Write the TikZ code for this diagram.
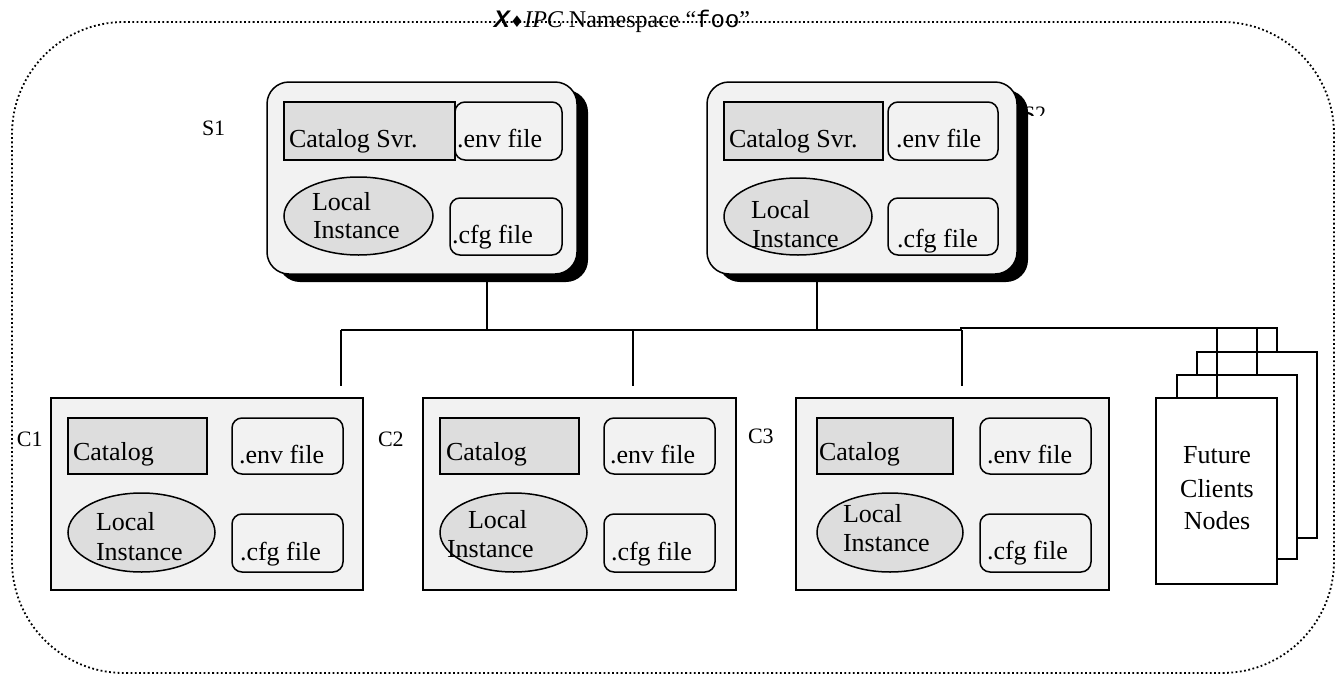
\documentclass[tikz,border=0pt]{standalone}
\usepackage{fontspec}
\setmainfont{Liberation Serif}
\setsansfont{Liberation Sans}
\setmonofont{Liberation Mono}
\newfontfamily\symfont{DejaVu Sans}
\usetikzlibrary{shapes.geometric,fit,shadows}
\definecolor{boxgray}{HTML}{F2F2F2}
\definecolor{catgray}{HTML}{DDDDDD}

\begin{document}
\begin{tikzpicture}[x=0.5pt,y=-0.5pt,
  line width=0.75pt,
  every node/.style={inner sep=0pt, outer sep=0pt},
  txt/.style={anchor=base west, font=\fontsize{13}{14}\selectfont},
  lbl/.style={anchor=base west, font=\fontsize{11}{12}\selectfont},
  srvbox/.style={draw, fill=boxgray, rounded corners=11pt,
    drop shadow={shadow xshift=5.5pt, shadow yshift=-4pt, opacity=1, fill=black}},
  clibox/.style={draw, fill=boxgray},
  catbox/.style={draw, fill=catgray},
  filebox/.style={draw, fill=boxgray, rounded corners=5pt},
  inst/.style={draw, fill=catgray, ellipse},
  future/.style={draw, fill=white},
  wire/.style={line width=0.8pt},
  nsframe/.style={line width=0.9pt, dash pattern=on 0.9pt off 1.25pt, rounded corners=56pt}
]
\useasboundingbox (0,0) rectangle (1340,675);

% namespace frame and its title
\node[nsframe, draw, fit={(12,22) (1334,673)}] (ns) {};
\node[anchor=base, font=\fontsize{12}{13}\selectfont] (title) at (622,27)
  {{\sffamily\bfseries\itshape X}{\symfont\fontsize{8}{9}\selectfont ♦}{\itshape IPC} Namespace “\texttt{foo}”};

% bus joints
\coordinate (j1) at (487,330);
\coordinate (j2) at (817,330);
\coordinate (d1) at (341,386);
\coordinate (d2) at (633,386);
\coordinate (d3) at (962,386);
\coordinate (busL) at (341,330);
\coordinate (busR) at (962,330);
\coordinate (feedL) at (960,328);
\coordinate (feedR) at (1277,328);
\coordinate (t1) at (1217,398);
\coordinate (t2) at (1257,375);

% server labels (S2 partly hidden)
\node[lbl] (s1lbl) at (202,135) {S1};
\begin{scope}
  \clip (1015,95) rectangle (1060,115);
  \node[lbl] (s2lbl) at (1023,121) {S2};
\end{scope}

% servers
\node[srvbox, fit={(267,82) (577,274)}] (s1) {};
\node[catbox, fit={(284,102) (455,160)}] (s1cat) {};
\node[filebox, fit={(455,102) (562,160)}] (s1env) {};
\node[inst, minimum width=74.5pt, minimum height=39pt] (s1inst) at (358.5,216) {};
\node[filebox, fit={(450,198) (562,255)}] (s1cfg) {};
\node[txt] (s1catt) at (289,147) {Catalog Svr.};
\node[txt] (s1envt) at (457,147) {.env file};
\node[txt] (s1i1) at (312,210) {Local};
\node[txt] (s1i2) at (313,238) {Instance};
\node[txt] (s1cfgt) at (452,243) {.cfg file};

\node[srvbox, fit={(707,82) (1017,274)}] (s2) {};
\node[catbox, fit={(724,102) (883,160)}] (s2cat) {};
\node[filebox, fit={(888,102) (998,160)}] (s2env) {};
\node[inst, minimum width=74pt, minimum height=38.5pt] (s2inst) at (798,216.5) {};
\node[filebox, fit={(888,198) (998,255)}] (s2cfg) {};
\node[txt] (s2catt) at (729,147) {Catalog Svr.};
\node[txt] (s2envt) at (896,147) {.env file};
\node[txt] (s2i1) at (751,218) {Local};
\node[txt] (s2i2) at (752,247) {Instance};
\node[txt] (s2cfgt) at (897,247) {.cfg file};

% bus
\draw[wire] (s1.south -| j1) -- (j1);
\draw[wire] (s2.south -| j2) -- (j2);
\draw[wire] (busL) -- (busR);
\draw[wire] (busL) -- (d1);
\draw[wire] (d2 |- busL) -- (d2);
\draw[wire] (busR) -- (d3);

% clients
\node[lbl] (c1lbl) at (17,446) {C1};
\node[lbl] (c2lbl) at (378,446) {C2};
\node[lbl] (c3lbl) at (748,443) {C3};

\node[clibox, fit={(51,398) (363,590)}] (c1) {};
\node[catbox, fit={(68,418) (207,474)}] (c1cat) {};
\node[filebox, fit={(232,418) (343,474)}] (c1env) {};
\node[inst, minimum width=73.5pt, minimum height=39.5pt] (c1inst) at (141.5,532.5) {};
\node[filebox, fit={(232,514) (343,572)}] (c1cfg) {};
\node[txt] (c1catt) at (73,460) {Catalog};
\node[txt] (c1envt) at (239,463) {.env file};
\node[txt] (c1i1) at (96,530) {Local};
\node[txt] (c1i2) at (96,560) {Instance};
\node[txt] (c1cfgt) at (240,560) {.cfg file};

\node[clibox, fit={(423,398) (736,590)}] (c2) {};
\node[catbox, fit={(440,418) (579,474)}] (c2cat) {};
\node[filebox, fit={(604,418) (715,474)}] (c2env) {};
\node[inst, minimum width=73.5pt, minimum height=39.5pt] (c2inst) at (513.5,532.5) {};
\node[filebox, fit={(604,514) (715,572)}] (c2cfg) {};
\node[txt] (c2catt) at (446,460) {Catalog};
\node[txt] (c2envt) at (610,463) {.env file};
\node[txt] (c2i1) at (468,528) {Local};
\node[txt] (c2i2) at (447,557) {Instance};
\node[txt] (c2cfgt) at (611,560) {.cfg file};

\node[clibox, fit={(796,398) (1109,590)}] (c3) {};
\node[catbox, fit={(817,418) (953,474)}] (c3cat) {};
\node[filebox, fit={(980,418) (1091,474)}] (c3env) {};
\node[inst, minimum width=73pt, minimum height=39.5pt] (c3inst) at (890,532.5) {};
\node[filebox, fit={(980,514) (1091,572)}] (c3cfg) {};
\node[txt] (c3catt) at (819,460) {Catalog};
\node[txt] (c3envt) at (987,463) {.env file};
\node[txt] (c3i1) at (843,522) {Local};
\node[txt] (c3i2) at (843,551) {Instance};
\node[txt] (c3cfgt) at (987,559) {.cfg file};

% future client nodes, back to front
\node[future, fit={(1197,352) (1317,538)}] (fc3) {};
\node[future, fit={(1177,375) (1297,559)}] (fc2) {};
\node[future, fit={(1156,398) (1277,584)}] (fc1) {};
\draw[wire] (feedL) -- (feedR) -- (feedR |- fc3.north);
\draw[wire] (t1 |- feedL) -- (t1 |- fc1.north);
\draw[wire] (t2 |- feedL) -- (t2 |- fc2.north);
\node[anchor=base, font=\fontsize{13}{14}\selectfont] (fut1) at (1217,463) {Future};
\node[anchor=base, font=\fontsize{13}{14}\selectfont] (fut2) at (1217,497) {Clients};
\node[anchor=base, font=\fontsize{13}{14}\selectfont] (fut3) at (1217,529) {Nodes};
\end{tikzpicture}
\end{document}
